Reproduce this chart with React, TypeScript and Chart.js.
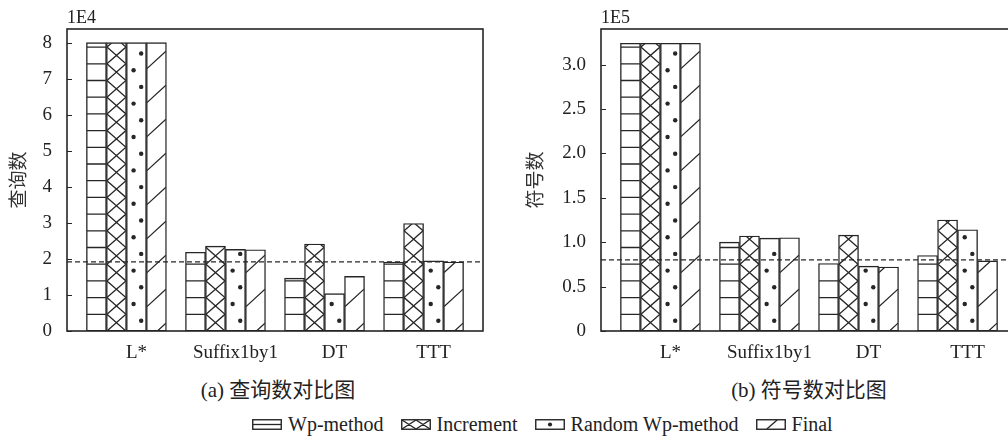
import React, { useEffect, useRef } from 'react';
import { Chart, registerables } from 'chart.js';

Chart.register(...registerables);

const SERIF = "'Liberation Serif', 'Noto Sans CJK SC', serif";
const CJK = "'Noto Sans CJK SC', 'Liberation Serif', sans-serif";
const INK = '#262626';

Chart.defaults.font.family = SERIF;
Chart.defaults.color = '#222';

// ---------- data ----------
const CATEGORIES = ['L*', 'Suffix1by1', 'DT', 'TTT'];
const SERIES_NAMES = ['Wp-method', 'Increment', 'Random Wp-method', 'Final'];

// (a) query counts, unit 1E4
const QUERY_WP = [8.02, 2.19, 1.47, 1.92];
const QUERY_INC = [8.02, 2.36, 2.42, 2.99];
const QUERY_RND = [8.02, 2.27, 1.04, 1.95];
const QUERY_FIN = [8.02, 2.26, 1.52, 1.92];
const QUERY_REF = 1.92;
const QUERY_TICKS = [0, 1, 2, 3, 4, 5, 6, 7, 8];
const QUERY_MAX = 8.4;

// (b) symbol counts, unit 1E5
const SYMBOL_WP = [3.24, 1.0, 0.76, 0.85];
const SYMBOL_INC = [3.24, 1.07, 1.08, 1.25];
const SYMBOL_RND = [3.24, 1.045, 0.73, 1.14];
const SYMBOL_FIN = [3.24, 1.05, 0.72, 0.79];
const SYMBOL_REF = 0.8;
const SYMBOL_TICKS = [0, 0.5, 1, 1.5, 2, 2.5, 3];
const SYMBOL_MAX = 3.4;

const X_MIN = -0.6;
const X_MAX = 3.6;

// ---------- hatch drawing ----------
function drawHatch(ctx: CanvasRenderingContext2D, kind: number, l: number, t: number, r: number, b: number, small: boolean) {
  const w = r - l;
  if (b - t < 0.5 || w < 0.5) return;
  ctx.save();
  ctx.beginPath();
  ctx.rect(l, t, w, b - t);
  ctx.clip();
  ctx.strokeStyle = INK;
  ctx.fillStyle = INK;
  ctx.lineWidth = 1.3;
  if (kind === 0) {
    const step = small ? (b - t) / 2 : 16.7;
    ctx.beginPath();
    for (let yy = b - step; yy > t + 0.8; yy -= step) {
      ctx.moveTo(l, yy);
      ctx.lineTo(r, yy);
    }
    ctx.stroke();
  } else if (kind === 1) {
    const ch = small ? b - t : 16.7;
    const cw = small ? w / 2 : w;
    ctx.beginPath();
    for (let x0 = l; x0 < r - 0.5; x0 += cw) {
      for (let y0 = b; y0 > t - ch; y0 -= ch) {
        ctx.moveTo(x0, y0);
        ctx.lineTo(x0 + cw, y0 - ch);
        ctx.moveTo(x0 + cw, y0);
        ctx.lineTo(x0, y0 - ch);
      }
    }
    ctx.stroke();
  } else if (kind === 2) {
    if (small) {
      ctx.beginPath();
      ctx.arc(l + w / 2, (t + b) / 2, 2.1, 0, Math.PI * 2);
      ctx.fill();
    } else {
      for (let k = 0; ; k++) {
        const yy = b - 10.3 - k * 16.7;
        if (yy < t + 1.5) break;
        const xx = l + (k % 2 === 0 ? 0.75 : 0.35) * w;
        ctx.beginPath();
        ctx.arc(xx, yy, 2.2, 0, Math.PI * 2);
        ctx.fill();
      }
    }
  } else {
    ctx.beginPath();
    if (small) {
      ctx.moveTo(l + 0.35 * w, b);
      ctx.lineTo(l + 0.72 * w, t);
    } else {
      const s = 0.92;
      const px = l + 0.55 * w;
      for (let k = 0; ; k++) {
        const py = b - k * 34;
        if (py + s * (px - l) < t) break;
        ctx.moveTo(l, py + s * (px - l));
        ctx.lineTo(r, py - s * (r - px));
      }
    }
    ctx.stroke();
  }
  ctx.restore();
}

const hatchPlugin = {
  id: 'hatch',
  afterDatasetDraw(chart: any, args: any) {
    const meta = args.meta;
    if (meta.type !== 'bar') return;
    const ctx = chart.ctx as CanvasRenderingContext2D;
    const kind = args.index;
    meta.data.forEach((el: any) => {
      const p = el.getProps(['x', 'y', 'base', 'width'], true);
      const l = p.x - p.width / 2;
      const r = p.x + p.width / 2;
      const t = Math.min(p.y, p.base);
      const b = Math.max(p.y, p.base);
      drawHatch(ctx, kind, l + 0.5, t + 0.5, r - 0.5, b, false);
    });
  },
};

const framePlugin = {
  id: 'frame',
  afterDraw(chart: any, _args: any, opts: any) {
    const ctx = chart.ctx as CanvasRenderingContext2D;
    const a = chart.chartArea;
    ctx.save();
    ctx.strokeStyle = INK;
    ctx.lineWidth = 1.6;
    ctx.strokeRect(a.left, a.top, a.right - a.left, a.bottom - a.top);
    const ys = chart.scales.y;
    ctx.beginPath();
    ys.ticks.forEach((tk: any) => {
      const yy = Math.round(ys.getPixelForValue(tk.value)) + 0.5;
      ctx.moveTo(a.left, yy);
      ctx.lineTo(a.left + 5, yy);
    });
    ctx.lineWidth = 1.2;
    ctx.stroke();
    if (opts && opts.exp) {
      ctx.fillStyle = '#222';
      ctx.font = `18px ${SERIF}`;
      ctx.textAlign = 'left';
      ctx.textBaseline = 'alphabetic';
      ctx.fillText(opts.exp, a.left, 23);
    }
    ctx.restore();
  },
};

interface PanelProps {
  series: number[][];
  refValue: number;
  ticks: number[];
  max: number;
  exp: string;
  title: string;
  yWidth: number;
  titlePad: number;
  rightPad: number;
  fmt: (v: number) => string;
}

function makeConfig(p: PanelProps): any {
  const bars = p.series.map((vals, si) => ({
    type: 'bar',
    label: SERIES_NAMES[si],
    data: vals.map((v, i) => ({ x: i, y: v })),
    backgroundColor: '#ffffff',
    borderColor: INK,
    borderWidth: 1.4,
    borderSkipped: false,
    barThickness: 20,
    order: 1,
  }));
  const refLine = {
    type: 'line',
    label: 'ref',
    data: [
      { x: X_MIN, y: p.refValue },
      { x: X_MAX, y: p.refValue },
    ],
    borderColor: INK,
    borderWidth: 1.2,
    borderDash: [5, 3],
    pointRadius: 0,
    fill: false,
    order: 0,
  };
  return {
    type: 'bar',
    data: { datasets: [...bars, refLine] },
    options: {
      responsive: false,
      animation: false,
      devicePixelRatio: 1,
      layout: { padding: { left: 0, top: 29, right: p.rightPad, bottom: 0 } },
      plugins: {
        legend: { display: false },
        tooltip: { enabled: false },
        frame: { exp: p.exp },
      },
      scales: {
        x: {
          type: 'linear',
          min: X_MIN,
          max: X_MAX,
          offset: false,
          bounds: 'ticks',
          afterBuildTicks: (s: any) => {
            s.ticks = CATEGORIES.map((_, i) => ({ value: i }));
          },
          ticks: {
            callback: (v: any) => CATEGORIES[v] ?? '',
            labelOffset: 10,
            padding: 11,
            autoSkip: false,
            maxRotation: 0,
            color: '#222',
            font: { size: 19, family: SERIF },
          },
          grid: { display: false, drawTicks: false, offset: false },
          border: { display: false },
          afterFit: (s: any) => {
            s.height = 39;
          },
        },
        y: {
          type: 'linear',
          min: 0,
          max: p.max,
          afterBuildTicks: (s: any) => {
            s.ticks = p.ticks.map((v) => ({ value: v }));
          },
          ticks: {
            callback: (v: any) => p.fmt(Number(v)),
            padding: 15,
            color: '#222',
            font: { size: 19, family: SERIF },
          },
          grid: { display: false, drawTicks: false },
          border: { display: false },
          title: {
            display: true,
            text: p.title,
            color: '#333',
            font: { size: 19, family: CJK },
            padding: { top: p.titlePad, bottom: 0 },
          },
          afterFit: (s: any) => {
            s.width = p.yWidth;
          },
        },
      },
    },
    plugins: [hatchPlugin, framePlugin],
  };
}

function Panel(props: PanelProps & { left: number; width: number; height: number }) {
  const ref = useRef<HTMLCanvasElement>(null);
  useEffect(() => {
    if (!ref.current) return;
    const chart = new Chart(ref.current, makeConfig(props));
    return () => chart.destroy();
  }, []);
  return (
    <canvas
      ref={ref}
      width={props.width}
      height={props.height}
      style={{ position: 'absolute', left: props.left, top: 0, width: props.width, height: props.height, display: 'block' }}
    />
  );
}

function LegendBox({ kind }: { kind: number }) {
  const ref = useRef<HTMLCanvasElement>(null);
  useEffect(() => {
    const c = ref.current;
    if (!c) return;
    const ctx = c.getContext('2d');
    if (!ctx) return;
    ctx.clearRect(0, 0, c.width, c.height);
    drawHatch(ctx, kind, 1, 1, 29, 10, true);
    ctx.strokeStyle = INK;
    ctx.lineWidth = 1.4;
    ctx.strokeRect(0.75, 0.75, 28.5, 9.5);
  }, []);
  return <canvas ref={ref} width={30} height={11} style={{ display: 'block', width: 30, height: 11 }} />;
}

const captionStyle: React.CSSProperties = {
  position: 'absolute',
  top: 378,
  transform: 'translateX(-50%)',
  whiteSpace: 'nowrap',
  font: `21px ${SERIF}`,
  lineHeight: '24px',
  color: '#222',
};

export default function App() {
  return (
    <div style={{ position: 'absolute', left: 0, top: 0, width: 1008, height: 438, overflow: 'hidden', background: '#fff' }}>
      <Panel
        left={0}
        width={500}
        height={370}
        series={[QUERY_WP, QUERY_INC, QUERY_RND, QUERY_FIN]}
        refValue={QUERY_REF}
        ticks={QUERY_TICKS}
        max={QUERY_MAX}
        exp="1E4"
        title="查询数"
        yWidth={67}
        titlePad={6}
        rightPad={17}
        fmt={(v) => String(v)}
      />
      <Panel
        left={500}
        width={520}
        height={370}
        series={[SYMBOL_WP, SYMBOL_INC, SYMBOL_RND, SYMBOL_FIN]}
        refValue={SYMBOL_REF}
        ticks={SYMBOL_TICKS}
        max={SYMBOL_MAX}
        exp="1E5"
        title="符号数"
        yWidth={101}
        titlePad={23}
        rightPad={3}
        fmt={(v) => (v === 0 ? '0' : v.toFixed(1))}
      />
      <div style={{ ...captionStyle, left: 278 }}>(a) 查询数对比图</div>
      <div style={{ ...captionStyle, left: 809 }}>(b) 符号数对比图</div>
      <div
        style={{
          position: 'absolute',
          left: 252,
          top: 413,
          display: 'flex',
          alignItems: 'center',
          whiteSpace: 'nowrap',
          font: `20px ${SERIF}`,
          lineHeight: '22px',
          color: '#222',
        }}
      >
        {SERIES_NAMES.map((name, i) => (
          <div key={name} style={{ display: 'flex', alignItems: 'center', marginRight: 17 }}>
            <LegendBox kind={i} />
            <span style={{ marginLeft: 6 }}>{name}</span>
          </div>
        ))}
      </div>
    </div>
  );
}
